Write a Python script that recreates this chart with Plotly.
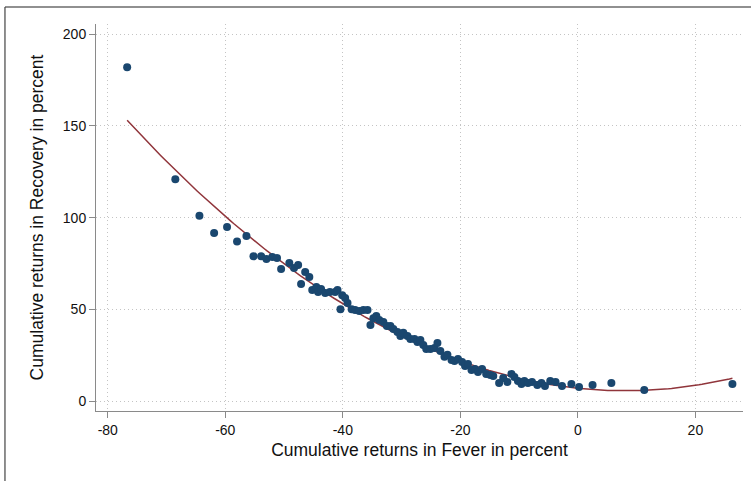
import numpy as np
import plotly.graph_objects as go

fever = [-76.7, -68.5, -64.4, -61.9, -59.7, -58.0, -56.4, -55.2, -53.9, -53.0,
         -52.0, -51.2, -50.5, -49.1, -48.3, -47.6, -47.1, -46.4, -45.7, -45.2,
         -44.5, -44.2, -43.7, -43.0, -42.2, -41.3, -40.9, -40.4, -40.1, -39.6,
         -39.2, -38.5, -37.9, -37.2, -36.5, -35.8, -35.3, -34.8, -34.3, -33.8,
         -33.1, -32.5, -31.9, -31.4, -30.7, -30.2, -29.7, -29.0, -28.5, -27.8,
         -27.3, -26.8, -26.3, -25.8, -25.1, -24.4, -23.9, -23.4, -22.7, -22.2,
         -21.5, -21.0, -20.4, -19.7, -19.2, -18.7, -18.1, -17.5, -17.0, -16.3,
         -15.6, -14.9, -14.4, -13.4, -12.7, -12.0, -11.3, -10.8, -10.2, -9.6,
         -9.1, -8.5, -7.8, -6.9, -6.2, -5.6, -4.7, -3.8, -2.7, -1.1,
         0.2, 2.5, 5.7, 11.3, 26.3]
recovery = [182.0, 121.0, 101.0, 91.6, 95.0, 87.0, 90.0, 79.0, 79.0, 77.5,
            78.6, 78.0, 72.0, 75.3, 72.6, 74.3, 63.9, 70.4, 67.7, 60.6,
            62.3, 59.5, 61.2, 59.0, 59.5, 59.5, 60.6, 50.2, 57.8, 56.3,
            53.5, 50.2, 49.7, 49.2, 49.7, 49.7, 41.5, 45.3, 46.4, 44.3,
            43.2, 41.0, 41.0, 39.4, 37.7, 35.6, 37.3, 35.6, 34.0, 34.0,
            32.3, 33.4, 30.7, 28.5, 28.5, 29.0, 31.8, 27.4, 24.2, 25.3,
            22.5, 22.0, 23.1, 21.4, 19.2, 20.3, 17.1, 17.6, 16.0, 17.6,
            14.9, 14.3, 13.8, 10.0, 12.7, 10.5, 14.9, 13.3, 11.1, 9.4,
            11.1, 10.0, 10.5, 8.9, 10.0, 8.3, 11.1, 10.5, 8.3, 9.4,
            7.8, 8.9, 10.0, 6.2, 9.4]

x_ticks = [-80, -60, -40, -20, 0, 20]
x_tick_labels = ["-80", "-60", "-40", "-20", "0", "20"]
y_ticks = [0, 50, 100, 150, 200]
y_tick_labels = ["0", "50", "100", "150", "200"]

coef = np.polyfit(fever, recovery, 2)
xfit = np.linspace(min(fever), max(fever), 200)
yfit = np.polyval(coef, xfit)

FONT = "Liberation Sans, Arial, sans-serif"

fig = go.Figure()
fig.add_trace(go.Scatter(x=xfit, y=yfit, mode="lines",
                         line=dict(color="#90353b", width=1.5),
                         hoverinfo="skip", showlegend=False))
fig.add_trace(go.Scatter(x=fever, y=recovery, mode="markers",
                         marker=dict(color="#1a476f", size=8, line=dict(width=0)),
                         showlegend=False))

axis_common = dict(
    automargin=False,
    showline=True, linecolor="#8a8a8a", linewidth=1,
    ticks="outside", ticklen=6, tickcolor="#8a8a8a", tickwidth=1,
    showgrid=True, gridcolor="#c4c4c4", griddash="1px,3px", gridwidth=1,
    zeroline=False, tickfont=dict(family=FONT, size=14, color="#111"),
)

fig.update_xaxes(range=[-82.0, 28.1], tickvals=x_ticks, ticktext=x_tick_labels,
                 title=dict(text="Cumulative returns in Fever in percent",
                            font=dict(family=FONT, size=17.5, color="#111"),
                            standoff=6),
                 **axis_common)
fig.update_yaxes(range=[-5.28, 205.5], tickvals=y_ticks, ticktext=y_tick_labels,
                 title=dict(text="Cumulative returns in Recovery in percent",
                            font=dict(family=FONT, size=17.5, color="#111"),
                            standoff=14),
                 **axis_common)

fig.update_layout(
    width=751, height=481,
    margin=dict(l=96, r=8, t=24, b=70),
    paper_bgcolor="white", plot_bgcolor="white",
    shapes=[
        dict(type="line", xref="paper", yref="paper", x0=-0.1407, x1=1.02,
             y0=1.0439, y1=1.0439, line=dict(color="#222", width=1.2)),
        dict(type="line", xref="paper", yref="paper", x0=-0.1407, x1=-0.1407,
             y0=1.0439, y1=-0.19, line=dict(color="#444", width=1.2)),
    ],
)

fig.write_html("out.html", config={"displayModeBar": False},
               post_script="document.body.style.margin='0';document.body.style.overflow='hidden';")
